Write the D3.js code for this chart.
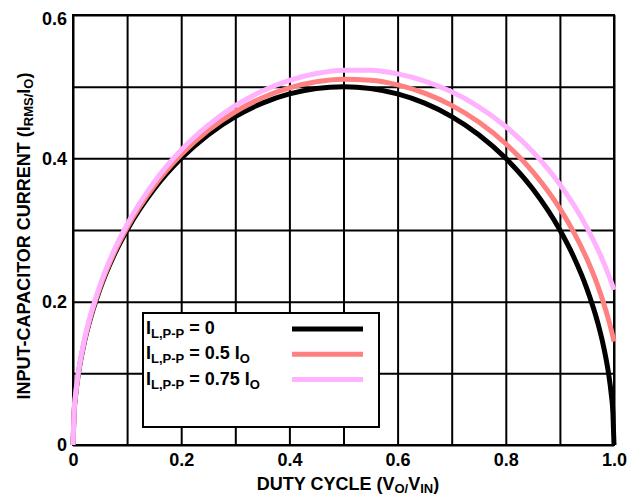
<!DOCTYPE html>
<html>
<head>
<meta charset="utf-8">
<script src="https://cdn.jsdelivr.net/npm/d3@7"></script>
<style>
  body { margin: 0; background: #fff; }
  text { font-family: "Liberation Sans", Arial, sans-serif; font-weight: bold; fill: #000; }
</style>
</head>
<body>
<script>
// duty cycle (Vo/Vin)
const duty = [0, 0.002, 0.005, 0.01, 0.02, 0.03, 0.05, 0.075, 0.1, 0.15, 0.2, 0.25, 0.3, 0.35,
  0.4, 0.45, 0.5, 0.55, 0.6, 0.65, 0.7, 0.75, 0.8, 0.85, 0.9, 0.925, 0.95, 0.97, 0.98, 0.99,
  0.995, 0.998, 1.0];

// Irms / Io for each ripple level
const ripple0 = [0, 0.0447, 0.0705, 0.0995, 0.14, 0.1706, 0.2179, 0.2634, 0.3, 0.3571, 0.4, 0.433,
  0.4583, 0.477, 0.4899, 0.4975, 0.5, 0.4975, 0.4899, 0.477, 0.4583, 0.433, 0.4, 0.3571, 0.3,
  0.2634, 0.2179, 0.1706, 0.14, 0.0995, 0.0705, 0.0447, 0];
const ripple05 = [0, 0.0451, 0.0713, 0.1005, 0.1415, 0.1724, 0.2203, 0.2663, 0.3035, 0.3614, 0.4052,
  0.439, 0.465, 0.4846, 0.4983, 0.5068, 0.5103, 0.5089, 0.5025, 0.491, 0.4739, 0.4507, 0.4203,
  0.3811, 0.3298, 0.2977, 0.2594, 0.2221, 0.2, 0.1747, 0.1603, 0.151, 0.1443];
const ripple075 = [0, 0.0457, 0.0722, 0.1018, 0.1433, 0.1747, 0.2233, 0.27, 0.3077, 0.3668, 0.4116,
  0.4463, 0.4734, 0.4939, 0.5087, 0.5183, 0.5229, 0.5228, 0.5178, 0.5079, 0.4928, 0.4719, 0.4444,
  0.4091, 0.3636, 0.3358, 0.3034, 0.2731, 0.256, 0.2373, 0.2272, 0.2209, 0.2165];

const seriesNames = ["0", "0.5", "0.75"];
const seriesColors = ["#000000", "#ff8080", "#ffb3ff"];
const seriesValues = [ripple0, ripple05, ripple075];

const xTicks = [0, 0.2, 0.4, 0.6, 0.8, 1.0];
const yTicks = [0, 0.2, 0.4, 0.6];

const width = 629, height = 497;
const plotLeft = 73, plotRight = 614, plotTop = 15, plotBottom = 445;

const svg = d3.select("body").append("svg")
  .attr("width", width)
  .attr("height", height);

const x = d3.scaleLinear().domain([0, 1]).range([plotLeft, plotRight]);
const y = d3.scaleLinear().domain([0, 0.6]).range([plotBottom, plotTop]);

// grid
const gridX = svg.append("g")
  .attr("transform", `translate(0,${plotBottom})`)
  .call(d3.axisBottom(x).tickValues(d3.range(0, 1.01, 0.1)).tickSize(-(plotBottom - plotTop)).tickFormat(""));
const gridY = svg.append("g")
  .attr("transform", `translate(${plotLeft},0)`)
  .call(d3.axisLeft(y).tickValues(d3.range(0, 0.61, 0.1)).tickSize(-(plotRight - plotLeft)).tickFormat(""));
[gridX, gridY].forEach(g => {
  g.select(".domain").remove();
  g.selectAll("line").attr("stroke", "#000").attr("stroke-width", 2);
});

svg.append("rect")
  .attr("x", plotLeft).attr("y", plotTop)
  .attr("width", plotRight - plotLeft).attr("height", plotBottom - plotTop)
  .attr("fill", "none").attr("stroke", "#000").attr("stroke-width", 2);

// tick labels
const xAxis = svg.append("g")
  .attr("transform", `translate(0,${plotBottom})`)
  .call(d3.axisBottom(x).tickValues(xTicks).tickSize(0).tickPadding(8)
    .tickFormat(d => d === 0 ? "0" : d3.format(".1f")(d)));
const yAxis = svg.append("g")
  .attr("transform", `translate(${plotLeft},0)`)
  .call(d3.axisLeft(y).tickValues(yTicks).tickSize(0).tickPadding(6)
    .tickFormat(d => d === 0 ? "0" : d3.format(".1f")(d)));
[xAxis, yAxis].forEach(g => {
  g.select(".domain").remove();
  g.selectAll("text").attr("font-size", 18).attr("font-family", null).attr("fill", "#000");
});
yAxis.selectAll("text").filter(d => d === 0.6).attr("dy", "0.5em");

// curves
const line = d3.line()
  .x((d, i) => x(duty[i]))
  .y(d => y(d))
  .curve(d3.curveMonotoneX);

seriesValues.forEach((vals, k) => {
  svg.append("path")
    .datum(vals)
    .attr("d", line)
    .attr("fill", "none")
    .attr("stroke", seriesColors[k])
    .attr("stroke-width", 5);
});

// legend
const legend = svg.append("g");
legend.append("rect")
  .attr("x", 143).attr("y", 313)
  .attr("width", 236).attr("height", 114)
  .attr("fill", "#fff").attr("stroke", "#000").attr("stroke-width", 2);

seriesNames.forEach((name, i) => {
  const yy = 329 + i * 25.3;
  legend.append("line")
    .attr("x1", 292).attr("x2", 363)
    .attr("y1", yy).attr("y2", yy)
    .attr("stroke", seriesColors[i]).attr("stroke-width", 5);
  const t = legend.append("text")
    .attr("x", 146).attr("y", yy + 5)
    .attr("font-size", 18);
  t.append("tspan").text("I");
  t.append("tspan").attr("font-size", 13).attr("dy", 4).text("L,P-P");
  t.append("tspan").attr("dy", -4).text(" = " + name);
  if (name !== "0") {
    t.append("tspan").text(" I");
    t.append("tspan").attr("font-size", 13).attr("dy", 4).text("O");
  }
});

// axis titles
const xt = svg.append("text")
  .attr("x", 348).attr("y", 490)
  .attr("text-anchor", "middle")
  .attr("font-size", 18);
xt.append("tspan").text("DUTY CYCLE (V");
xt.append("tspan").attr("font-size", 13).attr("dy", 3).text("O/");
xt.append("tspan").attr("dy", -3).text("V");
xt.append("tspan").attr("font-size", 13).attr("dy", 3).text("IN");
xt.append("tspan").attr("dy", -3).text(")");

const yt = svg.append("text")
  .attr("transform", `translate(30,236) rotate(-90)`)
  .attr("text-anchor", "middle")
  .attr("font-size", 18);
yt.append("tspan").text("INPUT-CAPACITOR CURRENT (I");
yt.append("tspan").attr("font-size", 13).attr("dy", 3).text("RMS/");
yt.append("tspan").attr("dy", -3).text("I");
yt.append("tspan").attr("font-size", 13).attr("dy", 3).text("O");
yt.append("tspan").attr("dy", -3).text(")");
</script>
</body>
</html>
